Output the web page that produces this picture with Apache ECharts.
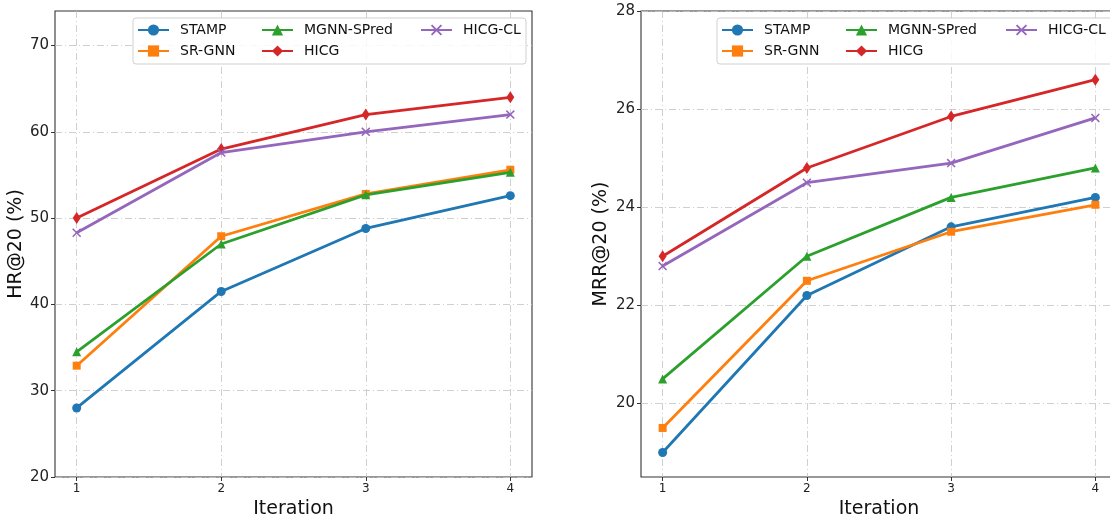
<!DOCTYPE html>
<html><head><meta charset="utf-8">
<script src="https://cdn.jsdelivr.net/npm/echarts@6/dist/echarts.min.js"></script>
<style>html,body{margin:0;padding:0;background:#fff}#c{width:1110px;height:520px}</style>
</head><body><div id="c"></div>
<script>
const iterations = [1, 2, 3, 4];
const seriesNames = ['STAMP', 'SR-GNN', 'MGNN-SPred', 'HICG', 'HICG-CL'];
const hrStamp = [28.0, 41.5, 48.8, 52.6];
const hrSrgnn = [32.9, 47.9, 52.8, 55.6];
const hrMgnn = [34.5, 47.0, 52.7, 55.3];
const hrHicg = [50.0, 58.0, 62.0, 64.0];
const hrHicgCl = [48.3, 57.6, 60.0, 62.0];
const mrrStamp = [19.0, 22.2, 23.6, 24.2];
const mrrSrgnn = [19.5, 22.5, 23.5, 24.05];
const mrrMgnn = [20.5, 23.0, 24.2, 24.8];
const mrrHicg = [23.0, 24.8, 25.85, 26.6];
const mrrHicgCl = [22.8, 24.5, 24.9, 25.82];
const hrTicks = [20, 30, 40, 50, 60, 70];
const mrrTicks = [20, 22, 24, 26, 28];

const colors = ['#1f77b4', '#ff7f0e', '#2ca02c', '#d62728', '#9467bd'];
const xPath = 'path://M0,1.2L1.2,0L5,3.8L8.8,0L10,1.2L6.2,5L10,8.8L8.8,10L5,6.2L1.2,10L0,8.8L3.8,5Z';
const symbols = ['circle', 'rect', 'triangle', 'diamond', xPath];
const symSizes = [9, 8, 9, [8, 12], 9];
const FONT = 'DejaVu Sans';
const chart = echarts.init(document.getElementById('c'));

const gridDash = { color: '#c4c4c4', width: 0.8, type: [7, 3, 1, 3] };

function xAx(gi) {
  return {
    type: 'value', gridIndex: gi, min: 0.85, max: 4.15,
    name: 'Iteration', nameLocation: 'middle', nameGap: 21,
    nameTextStyle: { fontFamily: FONT, fontSize: 19, color: '#111' },
    axisLine: { show: false },
    axisTick: { show: true, length: 4, inside: false, customValues: iterations, lineStyle: { color: '#333' } },
    axisLabel: { customValues: iterations, fontFamily: FONT, fontSize: 12, color: '#222', margin: 6 },
    splitLine: { show: true, lineStyle: gridDash }
  };
}
function yAx(gi, min, max, ticks, name, gap) {
  return {
    type: 'value', gridIndex: gi, min: min, max: max,
    name: name, nameLocation: 'middle', nameGap: gap,
    nameTextStyle: { fontFamily: FONT, fontSize: 19, color: '#111' },
    axisLine: { show: false },
    axisTick: { show: true, length: 4, inside: false, customValues: ticks, lineStyle: { color: '#333' } },
    axisLabel: { customValues: ticks, fontFamily: FONT, fontSize: 15, color: '#222', margin: 6 },
    splitLine: { show: true, lineStyle: gridDash }
  };
}

const hrData = [hrStamp, hrSrgnn, hrMgnn, hrHicg, hrHicgCl];
const mrrData = [mrrStamp, mrrSrgnn, mrrMgnn, mrrHicg, mrrHicgCl];
const series = [];
[hrData, mrrData].forEach((set, gi) => {
  set.forEach((vals, i) => {
    series.push({
      type: 'line', name: seriesNames[i], xAxisIndex: gi, yAxisIndex: gi,
      data: vals.map((v, k) => [iterations[k], v]),
      symbol: symbols[i], symbolSize: symSizes[i], showAllSymbol: true,
      lineStyle: { color: colors[i], width: 2.8 },
      itemStyle: { color: colors[i] },
      z: 2 + i, animation: false
    });
  });
});

const legendCols = [[137, 261, 420], [721, 845, 1005]];
const legendRows = [23, 44];
const legends = [];
legendCols.forEach((cols) => {
  seriesNames.forEach((nm, i) => {
    const col = Math.floor(i / 2), row = i % 2;
    legends.push({
      data: [nm], left: cols[col], top: legendRows[row], padding: 0, z: 20,
      itemWidth: 31, itemHeight: 14, selectedMode: false,
      textStyle: { fontFamily: FONT, fontSize: 14, color: '#111', padding: [0, 0, 0, 6] }
    });
  });
});

chart.setOption({
  backgroundColor: '#fff',
  animation: false,
  color: colors,
  grid: [
    { left: 55, top: 11, width: 477, height: 466, outerBoundsMode: 'none', containLabel: false, show: true, borderColor: '#333', borderWidth: 1.1, backgroundColor: 'transparent' },
    { left: 641, top: 11, width: 476, height: 466, outerBoundsMode: 'none', containLabel: false, show: true, borderColor: '#333', borderWidth: 1.1, backgroundColor: 'transparent' }
  ],
  xAxis: [xAx(0), xAx(1)],
  yAxis: [yAx(0, 20, 74, hrTicks, 'HR@20 (%)', 28), yAx(1, 18.5, 28, mrrTicks, 'MRR@20 (%)', 30)],
  legend: legends,
  graphic: [
    { type: 'rect', shape: { x: 133, y: 18, width: 393, height: 46, r: 3 }, style: { fill: 'rgba(255,255,255,0.85)', stroke: '#d0d0d0', lineWidth: 1 }, z: 8 },
    { type: 'rect', shape: { x: 717, y: 18, width: 400, height: 46, r: 3 }, style: { fill: 'rgba(255,255,255,0.85)', stroke: '#d0d0d0', lineWidth: 1 }, z: 8 }
  ],
  series: series
});
</script></body></html>
